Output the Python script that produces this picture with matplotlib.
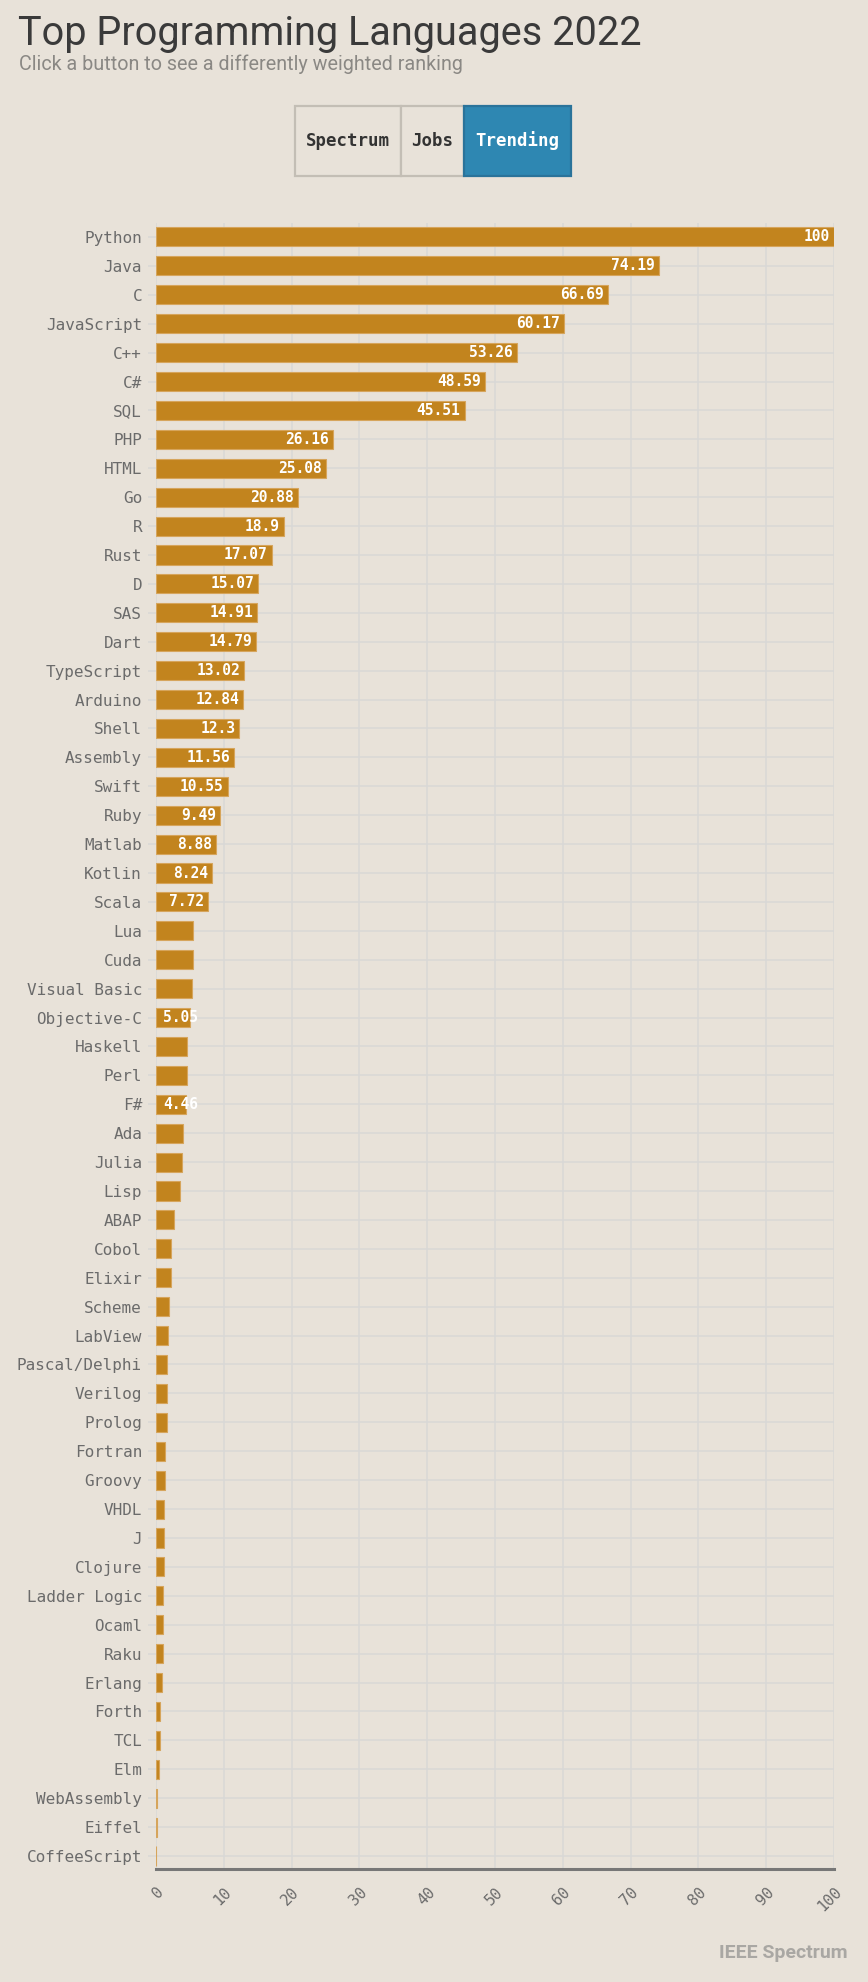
import matplotlib.pyplot as plt
import matplotlib.patches as patches

languages = ['Python', 'Java', 'C', 'JavaScript', 'C++', 'C#', 'SQL', 'PHP', 'HTML', 'Go',
             'R', 'Rust', 'D', 'SAS', 'Dart', 'TypeScript', 'Arduino', 'Shell', 'Assembly',
             'Swift', 'Ruby', 'Matlab', 'Kotlin', 'Scala', 'Lua', 'Cuda', 'Visual Basic',
             'Objective-C', 'Haskell', 'Perl', 'F#', 'Ada', 'Julia', 'Lisp', 'ABAP', 'Cobol',
             'Elixir', 'Scheme', 'LabView', 'Pascal/Delphi', 'Verilog', 'Prolog', 'Fortran',
             'Groovy', 'VHDL', 'J', 'Clojure', 'Ladder Logic', 'Ocaml', 'Raku', 'Erlang',
             'Forth', 'TCL', 'Elm', 'WebAssembly', 'Eiffel', 'CoffeeScript']
trending = [100, 74.19, 66.69, 60.17, 53.26, 48.59, 45.51, 26.16, 25.08, 20.88,
            18.9, 17.07, 15.07, 14.91, 14.79, 13.02, 12.84, 12.3, 11.56,
            10.55, 9.49, 8.88, 8.24, 7.72, 5.41, 5.41, 5.32,
            5.05, 4.62, 4.52, 4.46, 3.98, 3.78, 3.58, 2.70, 2.21,
            2.21, 1.87, 1.82, 1.57, 1.57, 1.57, 1.33,
            1.28, 1.18, 1.18, 1.18, 1.03, 0.98, 0.98, 0.88,
            0.64, 0.64, 0.49, 0.15, 0.15, 0.0]
# bars that carry a value label in the reference
labelled = languages[:24] + ['Objective-C', 'F#']
buttons = ['Spectrum', 'Jobs', 'Trending']
active_button = 'Trending'
xticks = list(range(0, 101, 10))

bg = '#E8E2D9'
bar_color = '#C2841E'
grid_color = '#D9D8D6'
mono = 'DejaVu Sans Mono'

W, H = 868, 1982
fig = plt.figure(figsize=(W / 100, H / 100), dpi=100, facecolor=bg)

ax = fig.add_axes([156 / W, 1 - 1869 / H, (834 - 156) / W, (1869 - 222.5) / H])
ax.set_facecolor(bg)

ypos = list(range(len(languages)))
ax.barh(ypos, trending, height=0.66, color=bar_color, edgecolor='#D6A55C',
        linewidth=0.8, zorder=3)

ax.set_xlim(0, 100)
ax.set_ylim(len(languages) - 0.55, -0.5)
ax.set_yticks(ypos)
ax.set_yticklabels(languages, family=mono, fontsize=11.5, color='#6B6B6B')
ax.set_xticks(xticks)
ax.set_xticklabels([str(t) for t in xticks], family=mono, fontsize=11, color='#6B6B6B',
                   rotation=45, ha='right', va='top', rotation_mode='anchor')
ax.tick_params(axis='y', length=6, width=1.1, color=grid_color, pad=4)
ax.tick_params(axis='x', length=0, pad=11)
ax.grid(True, color=grid_color, linewidth=1.1, zorder=0)
ax.set_axisbelow(True)
for s in ['top', 'right', 'left']:
    ax.spines[s].set_visible(False)
ax.spines['bottom'].set_color('#777777')
ax.spines['bottom'].set_linewidth(2.2)
ax.spines['bottom'].set_zorder(4)

# value labels inside the bars
fig.canvas.draw()
renderer = fig.canvas.get_renderer()
px_per_unit = ax.bbox.width / 100
for name, v, y in zip(languages, trending, ypos):
    if name not in labelled:
        continue
    txt = f'{v:g}'
    t = ax.text(v - 0.6, y, txt, ha='right', va='center', family=mono,
                fontsize=10.5, fontweight='bold', color='white', zorder=5)
    w = t.get_window_extent(renderer).width / px_per_unit
    if w + 1.2 > v:
        t.set_x(1.0)
        t.set_ha('left')

# title and subtitle
fig.text(18 / W, 1 - 45 / H, 'Top Programming Languages 2022', family='Roboto',
         fontsize=28.5, color='#3A3A3A', va='baseline')
fig.text(19 / W, 1 - 70 / H, 'Click a button to see a differently weighted ranking',
         family='Roboto', fontsize=14.2, color='#8A8884', va='baseline')

# button group
edges = [295, 401, 464, 571]
for i, label in enumerate(buttons):
    x0, x1 = edges[i], edges[i + 1]
    on = label == active_button
    rect = patches.Rectangle((x0 / W, 1 - 176 / H), (x1 - x0) / W, 70 / H,
                             transform=fig.transFigure,
                             facecolor='#2E87B2' if on else bg,
                             edgecolor='#2A739A' if on else '#C3BEB5', linewidth=1.6)
    fig.patches.append(rect)
    fig.text((x0 + x1) / 2 / W, 1 - 141 / H, label, family=mono, fontsize=12.5,
             fontweight='bold', color='white' if on else '#333333',
             ha='center', va='center')

fig.text(848 / W, 1 - 1958 / H, 'IEEE Spectrum', family='Roboto', fontsize=14,
         fontweight='bold', color='#A9A7A3', ha='right', va='baseline')

fig.savefig('out.png', dpi=100, facecolor=bg)
